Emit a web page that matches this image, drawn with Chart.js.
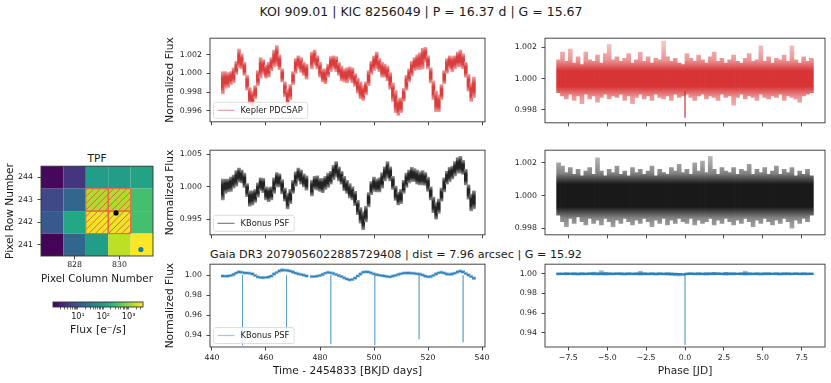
<!DOCTYPE html>
<html>
<head>
<meta charset="utf-8">
<script src="https://cdn.jsdelivr.net/npm/chart.js@4.4.1/dist/chart.umd.min.js"></script>
<style>
  html, body { margin: 0; padding: 0; background: #fff; }
  body { width: 831px; height: 383px; position: relative; overflow: hidden; font-family: 'DejaVu Sans', sans-serif; color: #1a1a1a; }
  canvas { position: absolute; }
  .txt { position: absolute; white-space: nowrap; transform: translate(-50%, -50%); line-height: 1; }
</style>
</head>
<body>
<div class="txt" style="left:421px;top:12px;font-size:12.5px">KOI 909.01 | KIC 8256049 | P = 16.37 d | G = 15.67</div>
<div class="txt" style="left:396px;top:255px;font-size:11.2px">Gaia DR3 2079056022885729408 | dist = 7.96 arcsec | G = 15.92</div>
<div class="txt" style="left:97px;top:158px;font-size:10.6px">TPF</div>
<canvas id="tl"></canvas>
<canvas id="ml"></canvas>
<canvas id="bl"></canvas>
<canvas id="tr"></canvas>
<canvas id="mr"></canvas>
<canvas id="br"></canvas>
<canvas id="tpf"></canvas>
<canvas id="cbar"></canvas>
<script>
// ---- data ----
// one bin per day (time - 2454833)
const binDays = [
  444, 445, 446, 447, 448, 449, 450, 451, 452, 453,
  454, 455, 456, 457, 458, 459, 460, 461, 462, 463,
  464, 465, 466, 467, 468, 469, 470, 471, 472, 473,
  474, 475, 476, 477, 478, 479, 480, 481, 482, 483,
  484, 485, 486, 487, 488, 489, 490, 491, 492, 493,
  494, 495, 496, 497, 498, 499, 500, 501, 502, 503,
  504, 505, 506, 507, 508, 509, 510, 511, 512, 513,
  514, 515, 516, 517, 518, 519, 520, 521, 522, 523,
  524, 525, 526, 527, 528, 529, 530, 531, 532, 533,
  534, 535, 536, 537
];

// Kepler PDCSAP: daily level and half-width of the scatter
const pdcFlux = [
  0.9990, 0.9993, 0.9993, 0.9995, 0.9998, 1.0006, 1.0016, 1.0013, 1.0005, 0.9990,
  0.9976, 0.9973, 0.9980, 0.9995, 1.0006, 1.0007, 1.0002, 1.0004, 1.0010, 1.0016,
  1.0019, 1.0012, 0.9998, 0.9983, 0.9974, 0.9980, 0.9995, 1.0008, 1.0012, 1.0009,
  1.0005, 1.0002, null, 1.0014, 1.0017, 1.0012, 1.0004, 0.9998, 0.9997, 1.0003,
  1.0010, 1.0012, 1.0010, 1.0005, 1.0000, 0.9998, 0.9998, 1.0000, 0.9998, 0.9993,
  0.9987, 0.9982, 0.9979, 0.9984, 0.9995, 1.0006, 1.0011, 1.0014, 1.0009, 1.0004,
  1.0003, 1.0000, 0.9992, 0.9980, 0.9970, 0.9964, 0.9966, 0.9977, 0.9990, 0.9998,
  1.0005, 1.0010, 1.0012, 1.0013, 1.0016, 1.0020, 1.0012, 0.9998, 0.9982, 0.9970,
  0.9968, 0.9980, 0.9996, 1.0008, 1.0012, 1.0010, 1.0012, 1.0015, 1.0016, 1.0013,
  1.0004, 0.9990, 0.9980, 0.9985
];
const pdcSpread = [
  0.0012, 0.0009, 0.0008, 0.0007, 0.0008, 0.0007, 0.0010, 0.0008, 0.0007, 0.0008,
  0.0009, 0.0008, 0.0007, 0.0008, 0.0011, 0.0008, 0.0007, 0.0008, 0.0007, 0.0009,
  0.0011, 0.0008, 0.0007, 0.0008, 0.0009, 0.0008, 0.0007, 0.0008, 0.0007, 0.0008,
  0.0007, 0.0008, 0.0008, 0.0009, 0.0008, 0.0007, 0.0008, 0.0007, 0.0008, 0.0007,
  0.0008, 0.0007, 0.0008, 0.0007, 0.0008, 0.0007, 0.0008, 0.0007, 0.0008, 0.0007,
  0.0008, 0.0009, 0.0008, 0.0007, 0.0008, 0.0007, 0.0008, 0.0009, 0.0007, 0.0008,
  0.0007, 0.0008, 0.0009, 0.0010, 0.0012, 0.0009, 0.0008, 0.0007, 0.0008, 0.0007,
  0.0008, 0.0007, 0.0008, 0.0009, 0.0011, 0.0008, 0.0007, 0.0008, 0.0010, 0.0011,
  0.0009, 0.0008, 0.0007, 0.0008, 0.0007, 0.0008, 0.0007, 0.0008, 0.0009, 0.0008,
  0.0008, 0.0009, 0.0010, 0.0011
];

// KBonus PSF, target
const psfFlux = [
  0.9996, 1.0001, 1.0002, 1.0004, 1.0008, 1.0013, 1.0018, 1.0016, 1.0010, 0.9995,
  0.9982, 0.9983, 0.9986, 0.9995, 1.0004, 1.0002, 0.9990, 0.9988, 0.9990, 1.0002,
  1.0011, 1.0010, 1.0000, 0.9988, 0.9978, 0.9985, 1.0000, 1.0012, 1.0019, 1.0015,
  1.0010, 1.0006, null, 0.9998, 1.0006, 1.0006, 1.0003, 1.0002, 1.0006, 1.0010,
  1.0014, 1.0022, 1.0027, 1.0020, 1.0014, 1.0005, 1.0000, 0.9994, 0.9990, 0.9982,
  0.9968, 0.9956, 0.9948, 0.9958, 0.9980, 0.9998, 1.0004, 1.0002, 1.0003, 1.0010,
  1.0020, 1.0026, 1.0020, 1.0006, 0.9990, 0.9982, 0.9985, 1.0000, 1.0010, 1.0016,
  1.0019, 1.0018, 1.0015, 1.0013, 1.0014, 1.0012, 1.0004, 0.9990, 0.9972, 0.9963,
  0.9970, 0.9988, 1.0003, 1.0014, 1.0019, 1.0022, 1.0028, 1.0033, 1.0034, 1.0030,
  1.0015, 0.9992, 0.9976, 0.9980
];
const psfSpread = [
  0.0016, 0.0011, 0.0010, 0.0011, 0.0010, 0.0012, 0.0011, 0.0010, 0.0011, 0.0010,
  0.0012, 0.0011, 0.0010, 0.0011, 0.0010, 0.0011, 0.0010, 0.0011, 0.0010, 0.0012,
  0.0011, 0.0010, 0.0011, 0.0010, 0.0012, 0.0011, 0.0010, 0.0011, 0.0010, 0.0011,
  0.0010, 0.0011, 0.0011, 0.0012, 0.0010, 0.0011, 0.0010, 0.0011, 0.0010, 0.0011,
  0.0010, 0.0011, 0.0012, 0.0011, 0.0010, 0.0011, 0.0010, 0.0011, 0.0010, 0.0011,
  0.0011, 0.0012, 0.0014, 0.0012, 0.0011, 0.0010, 0.0011, 0.0010, 0.0011, 0.0012,
  0.0011, 0.0013, 0.0011, 0.0010, 0.0011, 0.0010, 0.0011, 0.0010, 0.0011, 0.0010,
  0.0011, 0.0010, 0.0011, 0.0010, 0.0011, 0.0010, 0.0011, 0.0010, 0.0012, 0.0013,
  0.0011, 0.0010, 0.0011, 0.0010, 0.0011, 0.0010, 0.0011, 0.0012, 0.0013, 0.0011,
  0.0012, 0.0011, 0.0013, 0.0014
];

// KBonus PSF, Gaia neighbour
const gaiaFlux = [
  0.9990, 0.9988, 0.9990, 0.9995, 1.0005, 1.0020, 1.0030, 1.0028, 1.0022, 1.0020,
  1.0018, 1.0010, 0.9995, 0.9982, 0.9975, 0.9974, 0.9976, 0.9980, 0.9990, 1.0010,
  1.0025, 1.0040, 1.0048, 1.0048, 1.0045, 1.0040, 1.0030, 1.0020, 1.0012, 1.0005,
  0.9998, 0.9990, null, 0.9985, 0.9985, 0.9988, 0.9995, 1.0005, 1.0018, 1.0026,
  1.0022, 1.0015, 1.0005, 0.9995, 0.9985, 0.9972, 0.9960, 0.9952, 0.9955, 0.9970,
  0.9990, 1.0010, 1.0028, 1.0032, 1.0030, 1.0022, 1.0012, 1.0004, 0.9998, 0.9994,
  0.9990, 0.9985, 0.9982, 0.9988, 0.9996, 1.0005, 1.0012, 1.0018, 1.0020, 1.0020,
  1.0018, 1.0016, 1.0012, 1.0008, 1.0000, 0.9990, 0.9982, 0.9985, 0.9995, 1.0010,
  1.0022, 1.0026, 1.0020, 1.0010, 1.0006, 1.0010, 1.0018, 1.0030, 1.0038, 1.0030,
  1.0015, 1.0000, 0.9985, 0.9968
];
const gaiaSpread = [
  0.0013, 0.0012, 0.0013, 0.0012, 0.0014, 0.0012, 0.0013, 0.0012, 0.0013, 0.0012,
  0.0012, 0.0013, 0.0012, 0.0013, 0.0012, 0.0014, 0.0012, 0.0013, 0.0012, 0.0013,
  0.0012, 0.0013, 0.0015, 0.0012, 0.0013, 0.0012, 0.0013, 0.0012, 0.0013, 0.0012,
  0.0013, 0.0012, 0.0012, 0.0013, 0.0012, 0.0013, 0.0012, 0.0014, 0.0012, 0.0013,
  0.0012, 0.0013, 0.0012, 0.0013, 0.0012, 0.0013, 0.0012, 0.0013, 0.0012, 0.0013,
  0.0012, 0.0013, 0.0012, 0.0013, 0.0012, 0.0013, 0.0012, 0.0013, 0.0012, 0.0013,
  0.0012, 0.0013, 0.0012, 0.0013, 0.0012, 0.0013, 0.0012, 0.0013, 0.0012, 0.0013,
  0.0012, 0.0013, 0.0012, 0.0013, 0.0012, 0.0013, 0.0012, 0.0013, 0.0012, 0.0013,
  0.0012, 0.0013, 0.0012, 0.0013, 0.0012, 0.0013, 0.0012, 0.0013, 0.0014, 0.0013,
  0.0012, 0.0013, 0.0012, 0.0014
];
const gaiaDipTimes = [451.3, 467.6, 484.0, 500.3, 516.7, 533.0];
const gaiaDipFlux = [0.930, 0.936, 0.931, 0.930, 0.936, 0.933];

// folded curves, bins of 0.25 d in phase
const phaseBins = [
  -8.125, -7.875, -7.625, -7.375, -7.125, -6.875, -6.625, -6.375, -6.125, -5.875, -5.625,
  -5.375, -5.125, -4.875, -4.625, -4.375, -4.125, -3.875, -3.625, -3.375, -3.125, -2.875,
  -2.625, -2.375, -2.125, -1.875, -1.625, -1.375, -1.125, -0.875, -0.625, -0.375, -0.125,
  0.125, 0.375, 0.625, 0.875, 1.125, 1.375, 1.625, 1.875, 2.125, 2.375, 2.625,
  2.875, 3.125, 3.375, 3.625, 3.875, 4.125, 4.375, 4.625, 4.875, 5.125, 5.375,
  5.625, 5.875, 6.125, 6.375, 6.625, 6.875, 7.125, 7.375, 7.625, 7.875, 8.125
];
const pdcFoldHi = [
  1.0012, 1.0017, 1.0011, 1.0019, 1.0010, 1.0014, 1.0009, 1.0017, 1.0012, 1.0011, 1.0015,
  1.0010, 1.0016, 1.0022, 1.0012, 1.0014, 1.0011, 1.0013, 1.0016, 1.0010, 1.0012, 1.0017,
  1.0011, 1.0014, 1.0010, 1.0013, 1.0012, 1.0024, 1.0014, 1.0011, 1.0013, 1.0010, 1.0009,
  1.0016, 1.0013, 1.0011, 1.0015, 1.0012, 1.0010, 1.0014, 1.0017, 1.0011, 1.0013, 1.0010,
  1.0012, 1.0015, 1.0011, 1.0010, 1.0013, 1.0016, 1.0011, 1.0012, 1.0021, 1.0011, 1.0014,
  1.0010, 1.0013, 1.0012, 1.0015, 1.0011, 1.0021, 1.0012, 1.0010, 1.0014, 1.0011, 1.0013
];
const pdcFoldLo = [
  0.9991, 0.9989, 0.9987, 0.9990, 0.9986, 0.9989, 0.9984, 0.9990, 0.9987, 0.9989, 0.9985,
  0.9988, 0.9990, 0.9987, 0.9989, 0.9988, 0.9990, 0.9986, 0.9989, 0.9984, 0.9988, 0.9990,
  0.9987, 0.9989, 0.9986, 0.9990, 0.9988, 0.9987, 0.9989, 0.9986, 0.9990, 0.9988, 0.9989,
  0.9990, 0.9988, 0.9986, 0.9989, 0.9990, 0.9987, 0.9989, 0.9988, 0.9986, 0.9990, 0.9988,
  0.9989, 0.9983, 0.9988, 0.9990, 0.9987, 0.9989, 0.9988, 0.9986, 0.9990, 0.9988, 0.9987,
  0.9989, 0.9988, 0.9990, 0.9986, 0.9989, 0.9988, 0.9987, 0.9985, 0.9989, 0.9990, 0.9991
];
const psfFoldHi = [
  1.0020, 1.0018, 1.0014, 1.0017, 1.0013, 1.0016, 1.0012, 1.0015, 1.0017, 1.0013, 1.0023,
  1.0015, 1.0012, 1.0016, 1.0014, 1.0018, 1.0013, 1.0015, 1.0012, 1.0017, 1.0014, 1.0016,
  1.0013, 1.0015, 1.0018, 1.0012, 1.0016, 1.0014, 1.0013, 1.0017, 1.0015, 1.0019, 1.0014,
  1.0016, 1.0013, 1.0020, 1.0015, 1.0021, 1.0014, 1.0024, 1.0016, 1.0013, 1.0017, 1.0015,
  1.0014, 1.0017, 1.0013, 1.0016, 1.0015, 1.0019, 1.0013, 1.0016, 1.0014, 1.0017, 1.0013,
  1.0015, 1.0018, 1.0013, 1.0016, 1.0014, 1.0017, 1.0012, 1.0015, 1.0013, 1.0016, 1.0012
];
const psfFoldLo = [
  0.9988, 0.9984, 0.9981, 0.9986, 0.9983, 0.9987, 0.9984, 0.9982, 0.9986, 0.9983, 0.9985,
  0.9982, 0.9986, 0.9984, 0.9981, 0.9985, 0.9983, 0.9986, 0.9984, 0.9982, 0.9985, 0.9983,
  0.9986, 0.9984, 0.9981, 0.9985, 0.9983, 0.9986, 0.9982, 0.9985, 0.9983, 0.9986, 0.9984,
  0.9983, 0.9986, 0.9982, 0.9985, 0.9983, 0.9984, 0.9986, 0.9982, 0.9985, 0.9983, 0.9986,
  0.9984, 0.9982, 0.9985, 0.9983, 0.9986, 0.9984, 0.9981, 0.9985, 0.9983, 0.9986, 0.9984,
  0.9982, 0.9985, 0.9983, 0.9986, 0.9984, 0.9980, 0.9985, 0.9983, 0.9986, 0.9984, 0.9988
];
const gaiaFoldHi = [
  1.0010, 1.0008, 1.0012, 1.0009, 1.0011, 1.0010, 1.0013, 1.0009, 1.0012, 1.0016, 1.0011,
  1.0035, 1.0014, 1.0012, 1.0010, 1.0013, 1.0011, 1.0009, 1.0012, 1.0010, 1.0011, 1.0028,
  1.0012, 1.0010, 1.0013, 1.0009, 1.0011, 1.0010, 1.0012, 1.0008, 1.0006, 1.0004, 1.0002,
  1.0009, 1.0011, 1.0010, 1.0012, 1.0009, 1.0013, 1.0011, 1.0015, 1.0012, 1.0010, 1.0014,
  1.0011, 1.0013, 1.0010, 1.0012, 1.0026, 1.0011, 1.0009, 1.0012, 1.0010, 1.0013, 1.0011,
  1.0009, 1.0012, 1.0010, 1.0011, 1.0013, 1.0009, 1.0011, 1.0010, 1.0012, 1.0009, 1.0010
];
const gaiaFoldLo = [
  0.9988, 0.9990, 0.9987, 0.9990, 0.9988, 0.9986, 0.9989, 0.9987, 0.9990, 0.9988, 0.9987,
  0.9989, 0.9986, 0.9989, 0.9987, 0.9990, 0.9988, 0.9986, 0.9989, 0.9987, 0.9988, 0.9986,
  0.9989, 0.9987, 0.9988, 0.9986, 0.9989, 0.9987, 0.9985, 0.9982, 0.9978, 0.9975, 0.9980,
  0.9988, 0.9990, 0.9987, 0.9989, 0.9988, 0.9986, 0.9989, 0.9987, 0.9990, 0.9988, 0.9986,
  0.9989, 0.9987, 0.9990, 0.9988, 0.9986, 0.9989, 0.9987, 0.9988, 0.9986, 0.9989, 0.9987,
  0.9990, 0.9988, 0.9986, 0.9989, 0.9987, 0.9988, 0.9990, 0.9987, 0.9989, 0.9988, 0.9990
];
const foldDipPhase = [0.0];
const pdcFoldDipFlux = [0.9975];
const gaiaFoldDipFlux = [0.9277];

// axis ticks
const timeTicks = [440, 460, 480, 500, 520, 540];
const phaseTicks = [-7.5, -5.0, -2.5, 0.0, 2.5, 5.0, 7.5];
const pdcTicks = [0.996, 0.998, 1.000, 1.002];
const psfTicks = [0.995, 1.000, 1.005];
const gaiaTicks = [0.94, 0.96, 0.98, 1.00];
const foldTicks = [0.998, 1.000, 1.002];

// target pixel file (rows top to bottom, e-/s)
const tpfCols = [827, 828, 829, 830, 831];
const tpfRows = [244, 243, 242, 241];
const tpfFlux = [
  [1.2, 3.5, 93, 95, 119],
  [6.2, 15, 1380, 1400, 317],
  [10, 140, 3140, 2890, 317],
  [1.1, 15, 93, 1630, 3650]
];
const aperturePixels = [[829, 243], [830, 243], [829, 242], [830, 242]];
const tpfColTicks = [828, 830];
const tpfRowTicks = [241, 242, 243, 244];
const starCols = [829.85, 830.96];
const starRows = [242.42, 240.79];
const cbarRange = [1.03, 3700];
const cbarTicks = [2, 3, 4, 5, 6, 7, 8, 9, 10, 20, 30, 40, 50, 60, 70, 80, 90, 100,
  200, 300, 400, 500, 600, 700, 800, 900, 1000, 2000, 3000];
const cbarLabels = { 10: '10\u00b9', 100: '10\u00b2', 1000: '10\u00b3' };

// ---- drawing ----
Chart.defaults.font.family = "'DejaVu Sans', sans-serif";
Chart.defaults.color = '#1a1a1a';
Chart.defaults.animation = false;
Chart.defaults.plugins.legend.display = false;
Chart.defaults.plugins.tooltip.enabled = false;

const viridis = ['#440154', '#482475', '#414487', '#355f8d', '#2a788e', '#21918c',
  '#22a884', '#44bf70', '#7ad151', '#bddf26', '#fde725'];
const hexRgb = h => [1, 3, 5].map(i => parseInt(h.slice(i, i + 2), 16));
const viridisAt = t => {
  t = Math.min(1, Math.max(0, t));
  const s = t * 10, i = Math.min(9, Math.floor(s)), f = s - i;
  const a = hexRgb(viridis[i]), b = hexRgb(viridis[i + 1]);
  return `rgb(${a.map((v, k) => Math.round(v + (b[k] - v) * f)).join(',')})`;
};
const logNorm = v => (Math.log10(v) - Math.log10(cbarRange[0])) / (Math.log10(cbarRange[1]) - Math.log10(cbarRange[0]));
// opaque tint towards white, so overlapping bars leave no seams
const tint = (rgb, f) => `rgb(${rgb.split(',').map(v => Math.round(+v + (255 - v) * f)).join(',')})`;

// full box round every axes, like matplotlib spines
Chart.register({
  id: 'frame',
  afterDraw(chart) {
    const { ctx, chartArea: a } = chart;
    ctx.save();
    ctx.strokeStyle = '#333';
    ctx.lineWidth = 0.9;
    ctx.strokeRect(a.left, a.top, a.right - a.left, a.bottom - a.top);
    ctx.restore();
  }
});

// legend box in the lower left corner
Chart.register({
  id: 'boxLegend',
  afterDatasetsDraw(chart, args, opts) {
    if (!opts || !opts.text) return;
    const { ctx, chartArea: a } = chart;
    ctx.save();
    ctx.font = "8.3px 'DejaVu Sans', sans-serif";
    const tw = ctx.measureText(opts.text).width;
    const h = 16, x0 = a.left + 3.5, y0 = a.bottom - 3.5 - h, w = 27 + tw + 5;
    ctx.beginPath();
    ctx.roundRect(x0, y0, w, h, 2);
    ctx.fillStyle = 'rgba(255,255,255,0.8)';
    ctx.fill();
    ctx.strokeStyle = '#d6d6d6';
    ctx.lineWidth = 0.8;
    ctx.stroke();
    ctx.beginPath();
    ctx.moveTo(x0 + 4, y0 + h / 2);
    ctx.lineTo(x0 + 21, y0 + h / 2);
    ctx.strokeStyle = opts.color;
    ctx.lineWidth = 1.2;
    ctx.stroke();
    ctx.fillStyle = '#1a1a1a';
    ctx.textBaseline = 'middle';
    ctx.fillText(opts.text, x0 + 27, y0 + h / 2 + 0.5);
    ctx.restore();
  }
});

// daily scatter band: solid core, lighter tips
const bandFill = (rgb, core, edge) => (c) => {
  const p = c.parsed;
  if (!p || !p._custom) return tint(rgb, core);
  const ys = c.chart.scales.y;
  const top = ys.getPixelForValue(p._custom.max), bot = ys.getPixelForValue(p._custom.min);
  if (!isFinite(top) || !isFinite(bot) || bot - top < 2) return tint(rgb, core);
  const g = c.chart.ctx.createLinearGradient(0, top, 0, bot);
  g.addColorStop(0, tint(rgb, edge));
  g.addColorStop(0.3, tint(rgb, core));
  g.addColorStop(0.7, tint(rgb, core));
  g.addColorStop(1, tint(rgb, edge));
  return g;
};
// folded band: dark core round 1.0, pale spikes further out
const foldFill = (rgb, coreHalf, reach) => (c) => {
  const ys = c.chart.scales.y;
  const top = ys.getPixelForValue(1 + reach), bot = ys.getPixelForValue(1 - reach);
  if (!isFinite(top) || !isFinite(bot)) return tint(rgb, 0.05);
  const k = (reach - coreHalf) / (2 * reach);
  const g = c.chart.ctx.createLinearGradient(0, top, 0, bot);
  g.addColorStop(0, tint(rgb, 0.72));
  g.addColorStop(k * 0.6, tint(rgb, 0.5));
  g.addColorStop(k, tint(rgb, 0.06));
  g.addColorStop(1 - k, tint(rgb, 0.06));
  g.addColorStop(1 - k * 0.6, tint(rgb, 0.5));
  g.addColorStop(1, tint(rgb, 0.72));
  return g;
};

const dailyBand = (flux, spread, rgb) => ({
  type: 'bar',
  data: binDays.map((d, i) => flux[i] === null ? null : { x: d, y: [flux[i] - spread[i], flux[i] + spread[i]] })
    .filter(p => p !== null),
  backgroundColor: bandFill(rgb, 0.1, 0.55),
  borderWidth: 0,
  barThickness: 3,
  order: 2
});
const foldBand = (lo, hi, rgb, coreHalf, reach) => ({
  type: 'bar',
  data: phaseBins.map((ph, i) => ({ x: ph, y: [lo[i], hi[i]] })),
  backgroundColor: foldFill(rgb, coreHalf, reach),
  borderWidth: 0,
  barThickness: 4,
  order: 2
});
const dipLines = (times, depths, top, color) => ({
  type: 'line',
  data: times.flatMap((t, i) => [{ x: t, y: top }, { x: t, y: depths[i] }, { x: t, y: null }]),
  borderColor: color,
  borderWidth: 1,
  pointRadius: 0,
  spanGaps: false,
  order: 1
});

const tickGrid = { offset: false, drawOnChartArea: false, drawTicks: true, tickLength: 3.5, tickColor: '#333', tickWidth: 0.9 };
const TICK_FONT = { size: 7.8 };
const LABEL_FONT = { size: 10.6 };

function place(id, box, padL, padT, padR, padB) {
  const canvas = document.getElementById(id);
  const w = box.r - box.l + padL + padR, h = box.b - box.t + padT + padB;
  canvas.width = w;
  canvas.height = h;
  Object.assign(canvas.style, { left: (box.l - padL) + 'px', top: (box.t - padT) + 'px', width: w + 'px', height: h + 'px' });
  return canvas;
}

function lightCurve(id, c) {
  const padT = 8, padR = 12;
  const canvas = place(id, c.box, c.padL, padT, padR, c.padB);
  return new Chart(canvas, {
    type: 'bar',
    data: { datasets: c.datasets },
    options: {
      responsive: false,
      devicePixelRatio: 1,
      layout: { autoPadding: false, padding: { top: padT, right: padR, left: 0, bottom: 0 } },
      plugins: { boxLegend: c.legend || {} },
      scales: {
        x: {
          type: 'linear', offset: false, min: c.xMin, max: c.xMax,
          afterBuildTicks: s => { s.ticks = c.xTicks.map(v => ({ value: v })); },
          afterFit: s => { s.height = c.padB; },
          grid: tickGrid,
          border: { display: false },
          ticks: { display: !!c.xTitle, autoSkip: false, maxRotation: 0, padding: 3, font: TICK_FONT, callback: c.xFmt },
          title: { display: !!c.xTitle, text: c.xTitle || '', font: LABEL_FONT, padding: { top: 0, bottom: 5 } }
        },
        y: {
          type: 'linear', beginAtZero: false, min: c.yMin, max: c.yMax,
          afterBuildTicks: s => { s.ticks = c.yTicks.map(v => ({ value: v })); },
          afterFit: s => { s.width = c.padL; },
          grid: tickGrid,
          border: { display: false },
          ticks: { autoSkip: false, padding: 4.5, font: TICK_FONT, callback: v => v.toFixed(c.yDec) },
          title: { display: !!c.yTitle, text: c.yTitle || '', font: LABEL_FONT, padding: { top: 3.5, bottom: 0 } }
        }
      }
    }
  });
}

const timeFmt = v => String(v);
const phaseFmt = v => (v < 0 ? '\u2212' : '') + Math.abs(v).toFixed(1);
const RED = '214,39,40', BLACK = '10,10,10', BLUE = '31,119,180';

lightCurve('tl', {
  box: { l: 210, t: 37, r: 485, b: 123 }, padL: 50, padB: 8,
  xMin: 439.26, xMax: 541.11, xTicks: timeTicks, xFmt: timeFmt,
  yMin: 0.99482, yMax: 1.00378, yTicks: pdcTicks, yDec: 3, yTitle: 'Normalized Flux',
  legend: { text: 'Kepler PDCSAP', color: 'rgba(214,39,40,0.45)' },
  datasets: [dailyBand(pdcFlux, pdcSpread, RED)]
});
lightCurve('ml', {
  box: { l: 210, t: 149, r: 485, b: 236 }, padL: 50, padB: 8,
  xMin: 439.26, xMax: 541.11, xTicks: timeTicks, xFmt: timeFmt,
  yMin: 0.9926, yMax: 1.00565, yTicks: psfTicks, yDec: 3, yTitle: 'Normalized Flux',
  legend: { text: 'KBonus PSF', color: 'rgba(0,0,0,0.5)' },
  datasets: [dailyBand(psfFlux, psfSpread, BLACK)]
});
lightCurve('bl', {
  box: { l: 210, t: 263, r: 485, b: 347 }, padL: 50, padB: 36,
  xMin: 439.26, xMax: 541.11, xTicks: timeTicks, xFmt: timeFmt, xTitle: 'Time - 2454833 [BKJD days]',
  yMin: 0.9282, yMax: 1.0108, yTicks: gaiaTicks, yDec: 2, yTitle: 'Normalized Flux',
  legend: { text: 'KBonus PSF', color: 'rgba(31,119,180,0.4)' },
  datasets: [dailyBand(gaiaFlux, gaiaSpread, BLUE), dipLines(gaiaDipTimes, gaiaDipFlux, 1.0, 'rgba(31,119,180,0.35)')]
});
lightCurve('tr', {
  box: { l: 545, t: 37, r: 825, b: 124 }, padL: 40, padB: 8,
  xMin: -9, xMax: 9, xTicks: phaseTicks, xFmt: phaseFmt,
  yMin: 0.99717, yMax: 1.00259, yTicks: foldTicks, yDec: 3,
  datasets: [foldBand(pdcFoldLo, pdcFoldHi, RED, 0.0005, 0.0022), dipLines(foldDipPhase, pdcFoldDipFlux, 0.9992, 'rgba(214,39,40,0.5)')]
});
lightCurve('mr', {
  box: { l: 545, t: 149, r: 825, b: 236 }, padL: 40, padB: 8,
  xMin: -9, xMax: 9, xTicks: phaseTicks, xFmt: phaseFmt,
  yMin: 0.9976, yMax: 1.00277, yTicks: foldTicks, yDec: 3,
  datasets: [foldBand(psfFoldLo, psfFoldHi, BLACK, 0.0007, 0.0024)]
});
lightCurve('br', {
  box: { l: 545, t: 263, r: 825, b: 347 }, padL: 40, padB: 36,
  xMin: -9, xMax: 9, xTicks: phaseTicks, xFmt: phaseFmt, xTitle: 'Phase [JD]',
  yMin: 0.9257, yMax: 1.0097, yTicks: gaiaTicks, yDec: 2,
  datasets: [foldBand(gaiaFoldLo, gaiaFoldHi, BLUE, 0.0008, 0.004), dipLines(foldDipPhase, gaiaFoldDipFlux, 0.999, 'rgba(31,119,180,0.35)')]
});

// TPF image with aperture hatching
const pixelPlugin = {
  id: 'pixels',
  beforeDatasetsDraw(chart) {
    const { ctx, scales: { x, y } } = chart;
    const cell = (c, r) => {
      const x0 = x.getPixelForValue(c - 0.5), x1 = x.getPixelForValue(c + 0.5);
      const y0 = y.getPixelForValue(r + 0.5), y1 = y.getPixelForValue(r - 0.5);
      return [x0, y0, x1 - x0, y1 - y0];
    };
    ctx.save();
    tpfRows.forEach((r, ri) => tpfCols.forEach((c, ci) => {
      ctx.fillStyle = viridisAt(logNorm(tpfFlux[ri][ci]));
      ctx.fillRect(...cell(c, r));
    }));
    ctx.beginPath();
    aperturePixels.forEach(([c, r]) => ctx.rect(...cell(c, r)));
    ctx.clip();
    const a = chart.chartArea;
    ctx.beginPath();
    for (let k = -120; k < 240; k += 6.6) {
      ctx.moveTo(a.left + k, a.bottom);
      ctx.lineTo(a.left + k + (a.bottom - a.top), a.top);
    }
    ctx.strokeStyle = 'rgba(232,62,70,0.85)';
    ctx.lineWidth = 0.9;
    ctx.stroke();
    ctx.restore();
    ctx.save();
    ctx.strokeStyle = 'rgba(236,100,60,0.9)';
    ctx.lineWidth = 1.1;
    aperturePixels.forEach(([c, r]) => ctx.strokeRect(...cell(c, r)));
    ctx.restore();
  }
};
new Chart(place('tpf', { l: 41, t: 165, r: 153, b: 256 }, 41, 8, 8, 33), {
  type: 'scatter',
  data: {
    datasets: [
      { data: [{ x: starCols[0], y: starRows[0] }], backgroundColor: '#000', borderWidth: 0, pointRadius: 2.6 },
      { data: [{ x: starCols[1], y: starRows[1] }], backgroundColor: '#1f77b4', borderWidth: 0, pointRadius: 2.6 }
    ]
  },
  options: {
    responsive: false,
    devicePixelRatio: 1,
    layout: { autoPadding: false, padding: { top: 8, right: 8, left: 0, bottom: 0 } },
    scales: {
      x: {
        type: 'linear', min: 826.5, max: 831.5,
        afterBuildTicks: s => { s.ticks = tpfColTicks.map(v => ({ value: v })); },
        afterFit: s => { s.height = 33; },
        grid: tickGrid, border: { display: false },
        ticks: { autoSkip: false, maxRotation: 0, padding: 1, font: TICK_FONT, callback: v => String(v) },
        title: { display: true, text: 'Pixel Column Number', font: LABEL_FONT, padding: { top: 0, bottom: 3 } }
      },
      y: {
        type: 'linear', min: 240.5, max: 244.5,
        afterBuildTicks: s => { s.ticks = tpfRowTicks.map(v => ({ value: v })); },
        afterFit: s => { s.width = 41; },
        grid: tickGrid, border: { display: false },
        ticks: { autoSkip: false, padding: 4.5, font: TICK_FONT, callback: v => String(v) },
        title: { display: true, text: 'Pixel Row Number', font: LABEL_FONT, padding: { top: 4, bottom: 0 } }
      }
    }
  },
  plugins: [pixelPlugin]
});

// colour bar
const gradientPlugin = {
  id: 'viridisBar',
  beforeDatasetsDraw(chart) {
    const { ctx, chartArea: a } = chart;
    const g = ctx.createLinearGradient(a.left, 0, a.right, 0);
    viridis.forEach((col, i) => g.addColorStop(i / (viridis.length - 1), col));
    ctx.save();
    ctx.fillStyle = g;
    ctx.fillRect(a.left, a.top, a.right - a.left, a.bottom - a.top);
    ctx.restore();
  }
};
new Chart(place('cbar', { l: 53, t: 302, r: 143, b: 307 }, 13, 4, 10, 31), {
  type: 'scatter',
  data: { datasets: [] },
  options: {
    responsive: false,
    devicePixelRatio: 1,
    layout: { autoPadding: false, padding: { top: 4, right: 10, left: 13, bottom: 0 } },
    scales: {
      x: {
        type: 'logarithmic', min: cbarRange[0], max: cbarRange[1],
        afterBuildTicks: s => { s.ticks = cbarTicks.map(v => ({ value: v })); },
        afterFit: s => { s.height = 31; },
        grid: { drawOnChartArea: false, drawTicks: true, tickLength: 2.5, tickColor: '#333', tickWidth: 0.7 },
        border: { display: false },
        ticks: { autoSkip: false, maxRotation: 0, padding: 2, font: { size: 8.2 }, callback: v => cbarLabels[v] || '' },
        title: { display: true, text: 'Flux [e\u207b/s]', font: { size: 10.8 }, padding: { top: 0, bottom: 1 } }
      },
      y: { display: false, min: 0, max: 1 }
    }
  },
  plugins: [gradientPlugin]
});
</script>
</body>
</html>
